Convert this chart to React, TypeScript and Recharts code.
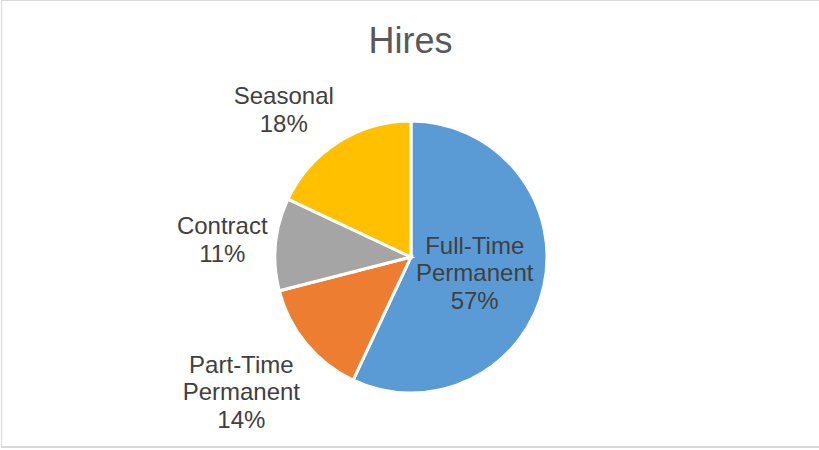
import { PieChart, Pie, Cell } from 'recharts';

const categories = ['Full-Time Permanent', 'Part-Time Permanent', 'Contract', 'Seasonal'];
const shares = [57, 14, 11, 18];
const colors = ['#5B9BD5', '#ED7D31', '#A5A5A5', '#FFC000'];

const data = categories.map((name, i) => ({ name, value: shares[i] }));

const FONT = "'Liberation Sans', Arial, sans-serif";
const FS = 24;
const LH = 27.7;
const RAD = Math.PI / 180;

let ctx: CanvasRenderingContext2D | null = null;
const measure = (s: string) => {
  if (!ctx) ctx = document.createElement('canvas').getContext('2d');
  if (!ctx) return s.length * FS * 0.5;
  ctx.font = `${FS}px 'Liberation Sans'`;
  return ctx.measureText(s).width;
};

const clamp = (v: number) => Math.max(-1, Math.min(1, v));

// big slices get their label inside, small ones outside with the box pushed away from the pie
function renderLabel(props: any) {
  const { cx, cy, midAngle, outerRadius, percent, name } = props;
  const lines = [...String(name).split(' '), `${Math.round(percent * 100)}%`];
  const dx = Math.cos(-midAngle * RAD);
  const dy = Math.sin(-midAngle * RAD);
  let x: number, y: number;
  if (percent > 0.3) {
    x = cx + outerRadius * 0.48 * dx;
    y = cy + outerRadius * 0.48 * dy;
  } else {
    const w = Math.max(...lines.map(measure));
    const h = lines.length * LH;
    const r = outerRadius + 8;
    x = cx + r * dx + (clamp(dx * 2) * w) / 2;
    y = cy + r * dy + (clamp(dy * 2) * h) / 2;
  }
  const n = lines.length;
  return (
    <text x={x} y={y} textAnchor="middle" fill="#404040" fontSize={FS} fontFamily={FONT}>
      {lines.map((l, i) => (
        <tspan key={i} x={x} y={y + (i - (n - 1) / 2) * LH + 0.42 * FS}>{l}</tspan>
      ))}
    </text>
  );
}

export default function App() {
  return (
    <div style={{ position: 'absolute', left: 0, top: 0, width: 819, height: 450, background: '#fff', overflow: 'hidden' }}>
      <div style={{ position: 'absolute', left: 1, top: 0, width: 840, height: 448, boxSizing: 'border-box', border: '1px solid #d9d9d9', borderBottomWidth: 2 }} />
      <div style={{ position: 'absolute', left: 0, top: 23, width: 821, textAlign: 'center', fontFamily: FONT, fontSize: 36, lineHeight: '36px', color: '#595959' }}>
        Hires
      </div>
      <div style={{ position: 'absolute', left: 0, top: 0 }}>
        <PieChart width={819} height={450} margin={{ top: 0, right: 0, bottom: 0, left: 0 }}>
          <Pie
            data={data}
            dataKey="value"
            nameKey="name"
            cx={411}
            cy={257}
            outerRadius={136}
            startAngle={90}
            endAngle={-270}
            stroke="#fff"
            strokeWidth={3}
            label={renderLabel}
            labelLine={false}
            isAnimationActive={false}
          >
            {data.map((d, i) => <Cell key={d.name} fill={colors[i]} />)}
          </Pie>
        </PieChart>
      </div>
    </div>
  );
}
